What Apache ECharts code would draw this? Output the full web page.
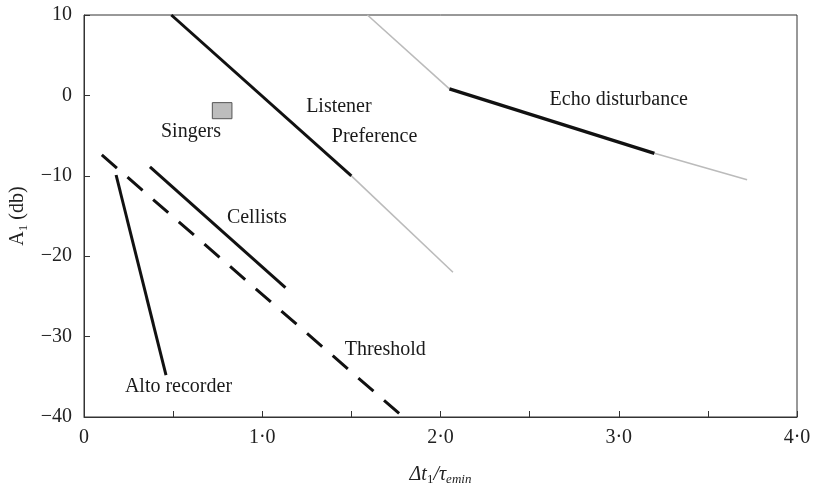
<!DOCTYPE html>
<html>
<head>
<meta charset="utf-8">
<script src="https://cdn.jsdelivr.net/npm/echarts@6/dist/echarts.min.js"></script>
<style>
  html, body { margin: 0; padding: 0; background: #fff; }
  #chart { width: 814px; height: 489px; }
</style>
</head>
<body>
<div id="chart"></div>
<script>
// line segments, [x, y]
const listener = [[0.49, 10], [1.5, -10]];
const listenerTail = [[1.5, -10], [2.07, -22]];
const echoHead = [[1.59, 10], [2.05, 0.8]];
const echo = [[2.05, 0.8], [3.2, -7.2]];
const echoTail = [[3.2, -7.2], [3.72, -10.5]];
const cellists = [[0.37, -8.9], [1.13, -23.9]];
const threshold = [[0.1, -7.4], [1.77, -39.6]];
const altoRecorder = [[0.18, -9.9], [0.46, -34.8]];
// singers box: x from/to, y from/to
const singersBox = [[0.72, -0.9], [0.83, -2.9]];

// annotation text
const labels = [
    { name: 'Listener', value: [1.43, -1.4] },
    { name: 'Preference', value: [1.63, -5.2] },
    { name: 'Singers', value: [0.6, -4.5] },
    { name: 'Echo disturbance', value: [3.0, -0.6] },
    { name: 'Cellists', value: [0.97, -15.2] },
    { name: 'Threshold', value: [1.69, -31.6] },
    { name: 'Alto recorder', value: [0.53, -36.2] }
];

const serif = 'Liberation Serif';
const black = '#111';
const grey = '#bbb';

const mCharts = echarts.init(document.getElementById('chart'));

const seg = (data, color, width, type) => ({
    type: 'line',
    data: data,
    symbol: 'none',
    silent: true,
    lineStyle: { color: color, width: width, type: type || 'solid' }
});

const options = {
    animation: false,
    grid: {
        left: 84,
        right: 17,
        top: 15,
        bottom: 72,
        outerBoundsMode: 'none',
        show: true,
        borderColor: '#333',
        borderWidth: 1
    },
    xAxis: {
        type: 'value',
        min: 0,
        max: 4,
        interval: 0.5,
        splitLine: { show: false },
        axisLine: { onZero: false, lineStyle: { color: '#333' } },
        axisTick: { inside: true, length: 6, lineStyle: { color: '#333' } },
        axisLabel: {
            margin: 11,
            color: '#222',
            fontFamily: serif,
            fontSize: 20,
            formatter: v => v === 0 ? '0' : (v % 1 === 0 ? v.toFixed(1).replace('.', '·') : '')
        },
        name: '{i|Δt}{sub|1}{i|/τ}{subi|emin}',
        nameLocation: 'middle',
        nameGap: 46,
        nameTextStyle: {
            color: '#222',
            fontFamily: serif,
            rich: {
                i: { fontFamily: serif, fontStyle: 'italic', fontSize: 20, color: '#222' },
                sub: { fontFamily: serif, fontSize: 13, color: '#222', padding: [10, 0, 0, 0] },
                subi: { fontFamily: serif, fontStyle: 'italic', fontSize: 13, color: '#222', padding: [10, 0, 0, 0] }
            }
        }
    },
    yAxis: {
        type: 'value',
        min: -40,
        max: 10,
        interval: 10,
        splitLine: { show: false },
        axisLine: { onZero: false, lineStyle: { color: '#333' } },
        axisTick: { inside: true, length: 6, lineStyle: { color: '#333' } },
        axisLabel: {
            margin: 12,
            color: '#222',
            fontFamily: serif,
            fontSize: 20,
            formatter: v => String(v).replace('-', '−')
        },
        name: 'A{sub|1} (db)',
        nameLocation: 'middle',
        nameGap: 54,
        nameTextStyle: {
            color: '#222',
            fontFamily: serif,
            fontSize: 20,
            rich: {
                sub: { fontFamily: serif, fontSize: 13, color: '#222', padding: [12, 0, 0, 0] }
            }
        }
    },
    series: [
        seg(listenerTail, grey, 1.6),
        seg(echoHead, grey, 1.6),
        seg(echoTail, grey, 1.6),
        seg(listener, black, 3),
        seg(echo, black, 3.4),
        seg(cellists, black, 3),
        seg(altoRecorder, black, 3),
        Object.assign(seg(threshold, black, 3), { lineStyle: { color: black, width: 3, type: [20, 14] } }),
        {
            type: 'scatter',
            data: labels,
            symbolSize: 0,
            silent: true,
            itemStyle: { opacity: 1 },
            label: {
                show: true,
                position: 'inside',
                formatter: p => p.name,
                fontFamily: serif,
                fontSize: 20,
                color: '#1a1a1a'
            },
            markArea: {
                silent: true,
                itemStyle: { color: '#bdbdbd', borderColor: '#555', borderWidth: 1, opacity: 1 },
                data: [[{ coord: singersBox[0] }, { coord: singersBox[1] }]]
            }
        }
    ]
};

mCharts.setOption(options);
</script>
</body>
</html>
